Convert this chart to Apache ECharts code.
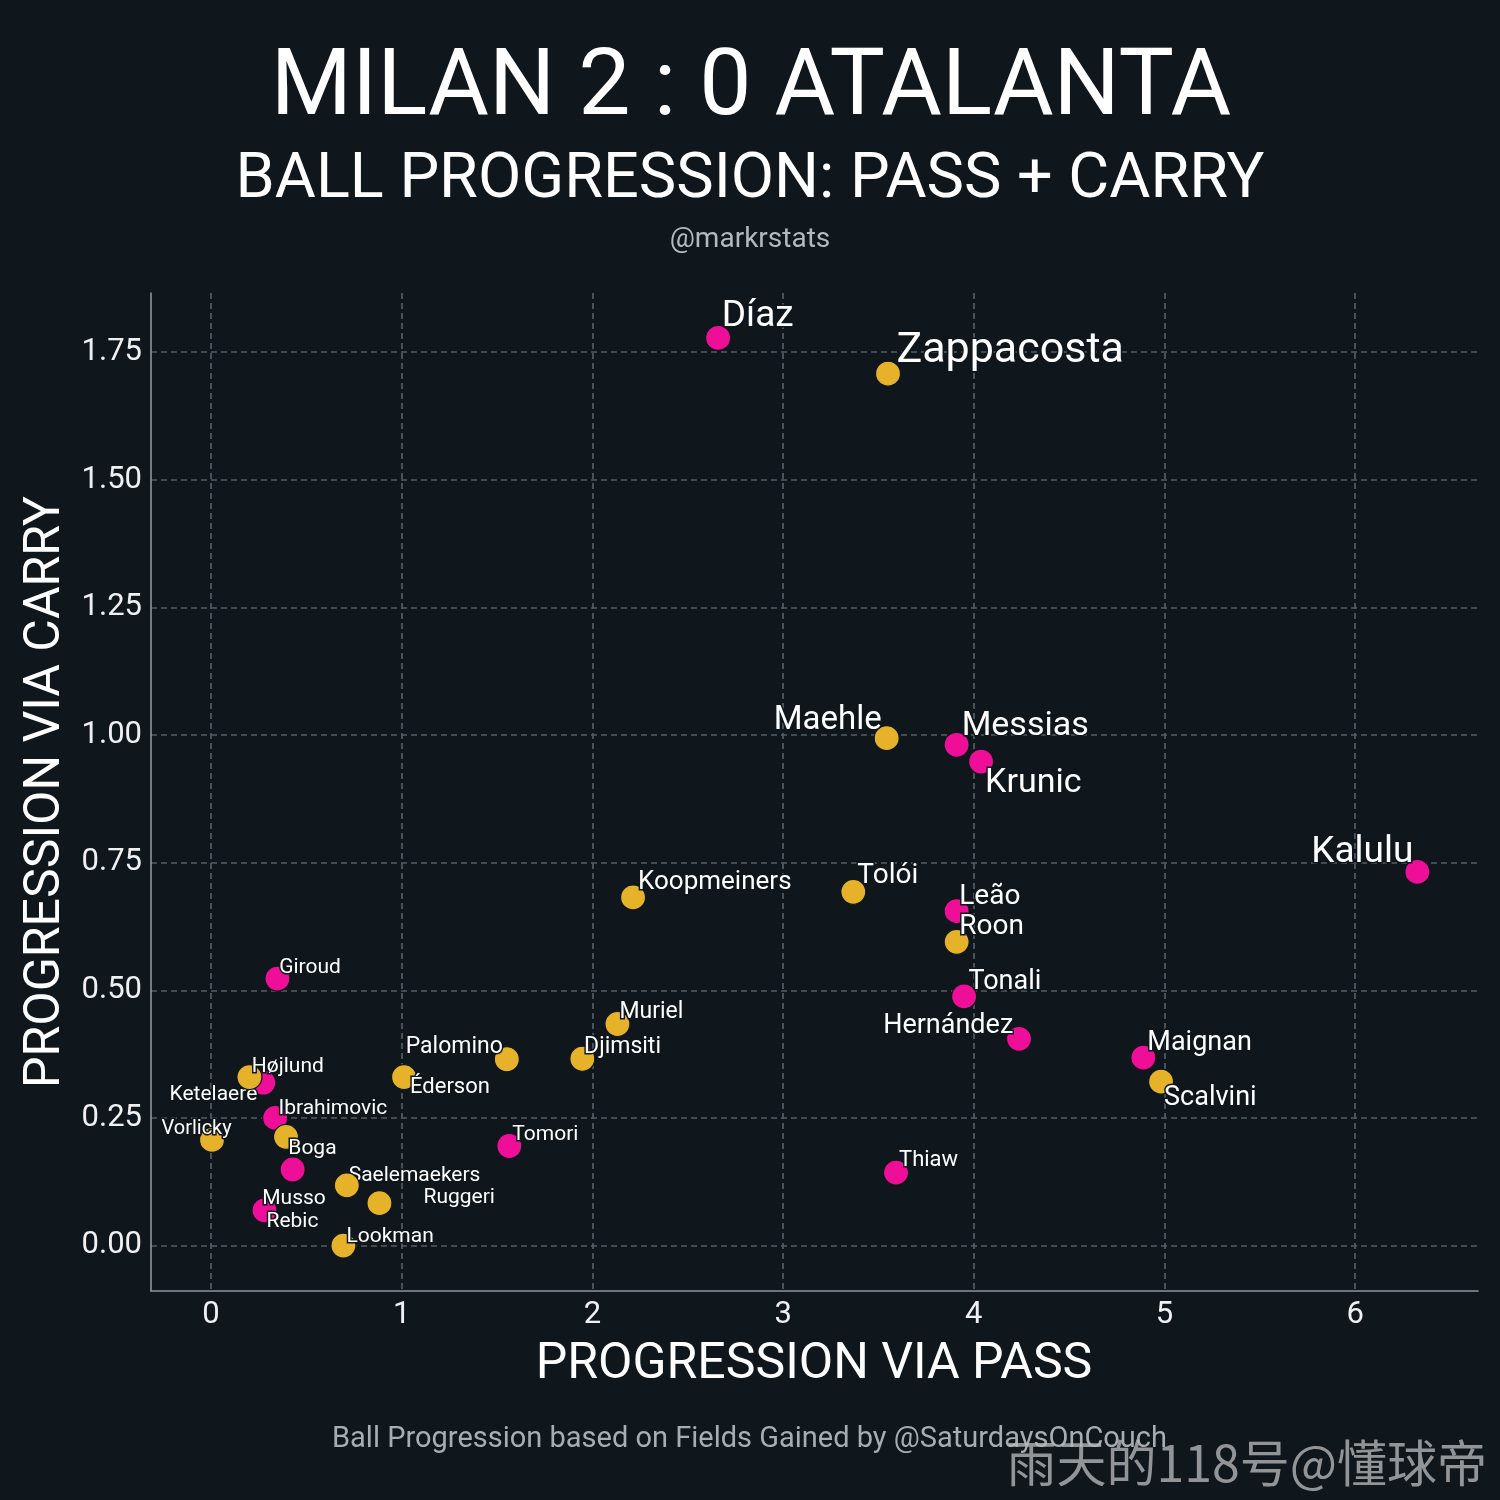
<!DOCTYPE html>
<html>
<head>
<meta charset="utf-8">
<script src="https://cdn.jsdelivr.net/npm/echarts@6/dist/echarts.min.js"></script>
<style>
html,body{margin:0;padding:0;background:#0f161c;}
#c{width:1500px;height:1500px;}
</style>
</head>
<body>
<div id="c"></div>
<script>
// ---- data ----
const milanNames = ['Díaz','Messias','Krunic','Kalulu','Leão','Tonali','Hernández','Maignan','Thiaw','Giroud','Tomori','Ketelaere','Ibrahimovic','Saelemaekers','Rebic'];
const milanPass  = [2.659, 3.910, 4.038, 6.326, 3.910, 3.949, 4.237, 4.889, 3.592, 0.348, 1.564, 0.274, 0.336, 0.428, 0.280];
const milanCarry = [1.778, 0.981, 0.948, 0.732, 0.655, 0.488, 0.405, 0.368, 0.143, 0.523, 0.195, 0.319, 0.250, 0.149, 0.069];

const atalantaNames = ['Zappacosta','Maehle','Koopmeiners','Tolói','Roon','Scalvini','Muriel','Djimsiti','Palomino','Éderson','Højlund','Boga','Vorlicky','Musso','Ruggeri','Lookman'];
const atalantaPass  = [3.550, 3.543, 2.213, 3.368, 3.910, 4.982, 2.131, 1.947, 1.551, 1.012, 0.201, 0.393, 0.005, 0.712, 0.883, 0.694];
const atalantaCarry = [1.708, 0.994, 0.682, 0.693, 0.595, 0.321, 0.434, 0.366, 0.365, 0.330, 0.330, 0.213, 0.207, 0.118, 0.083, 0.000];

const xTicks = [0, 1, 2, 3, 4, 5, 6];
const yTicks = [0, 0.25, 0.5, 0.75, 1.0, 1.25, 1.5, 1.75];

// ---- label styling (align, dx, dy, fontSize) ----
const labelLayout = {
  'Díaz':['left',3.7,-25.8,37], 'Zappacosta':['left',8.4,-27.5,43],
  'Maehle':['right',-5,-21,33], 'Messias':['left',5,-22,34], 'Krunic':['left',4,17.5,34],
  'Kalulu':['right',-4,-24,37], 'Koopmeiners':['left',5,-18,26], 'Tolói':['left',4,-19,28],
  'Leão':['left',2.6,-17.5,28], 'Roon':['left',2.6,-17.8,28], 'Tonali':['left',4.3,-17.5,27],
  'Hernández':['right',-5.7,-16,27], 'Maignan':['left',4,-17.5,27], 'Scalvini':['left',3,13.5,27],
  'Thiaw':['left',3,-15,22], 'Giroud':['left',1.7,-13,21], 'Muriel':['left',2,-15,23],
  'Djimsiti':['left',1.7,-14.6,23], 'Palomino':['right',-4,-14.7,23], 'Éderson':['left',6,8,22],
  'Tomori':['left',3,-14,21], 'Højlund':['left',2.4,-12.7,21], 'Ketelaere':['right',-6,9.7,21],
  'Ibrahimovic':['left',3.3,-12,21], 'Vorlicky':['right',19.7,-13.7,20], 'Boga':['left',2.3,9.8,21],
  'Saelemaekers':['left',56,3.7,21], 'Musso':['right',-21,11,21], 'Ruggeri':['left',44,-8.2,21],
  'Rebic':['left',2,9,21], 'Lookman':['left',3,-11.7,21]
};

const BG = '#0f161c';
const MAGENTA = '#ee0e98';
const GOLD = '#e6b22a';

function buildData(names, xs, ys) {
  return names.map((n, i) => {
    const l = labelLayout[n] || ['left', 4, -14, 21];
    return {
      name: n,
      value: [xs[i], ys[i]],
      label: {
        show: true,
        formatter: n,
        position: 'inside',
        align: l[0],
        verticalAlign: 'middle',
        offset: [l[1], l[2] + 0.12 * l[3]],
        fontSize: l[3],
        fontFamily: 'Roboto',
        color: '#ffffff',
        textBorderColor: BG,
        textBorderWidth: 3
      }
    };
  });
}

const chart = echarts.init(document.getElementById('c'), null, {renderer: 'canvas'});
const txt = (text, x, y, fs, color, extra) => Object.assign({
  type: 'text', x: x, y: y, z: 100,
  style: Object.assign({
    text: text, fill: color, fontSize: fs, fontFamily: 'Roboto',
    align: 'center', verticalAlign: 'middle',
    textAlign: 'center', textVerticalAlign: 'middle'
  }, extra && extra.style || {})
}, extra && extra.el || {});

chart.setOption({
  backgroundColor: BG,
  animation: false,
  grid: {left: 151, right: 22, top: 293, bottom: 209, containLabel: false},
  xAxis: {
    type: 'value', min: -0.315, max: 6.644,
    axisLine: {show: true, onZero: false, lineStyle: {color: '#8c989d', width: 1.6}},
    axisTick: {show: false, customValues: xTicks},
    axisLabel: {customValues: xTicks, color: '#f0f0f0', fontSize: 31, fontFamily: 'Roboto', margin: 9,
      formatter: v => String(Math.round(v))},
    splitLine: {show: true, lineStyle: {type: [6, 4], color: '#515e64', width: 1.7}}
  },
  yAxis: {
    type: 'value', min: -0.089, max: 1.866,
    axisLine: {show: true, onZero: false, lineStyle: {color: '#8c989d', width: 1.6}},
    axisTick: {show: false, customValues: yTicks},
    axisLabel: {customValues: yTicks, color: '#f0f0f0', fontSize: 31, fontFamily: 'Roboto', margin: 9,
      padding: [5, 0, 0, 0], formatter: v => v.toFixed(2)},
    splitLine: {show: true, lineStyle: {type: [6, 4], color: '#515e64', width: 1.7}}
  },
  series: [
    {
      name: 'Milan', type: 'scatter', symbolSize: 25, z: 2,
      itemStyle: {color: MAGENTA, borderColor: BG, borderWidth: 1.2, opacity: 1},
      data: buildData(milanNames, milanPass, milanCarry)
    },
    {
      name: 'Atalanta', type: 'scatter', symbolSize: 25, z: 3,
      itemStyle: {color: GOLD, borderColor: BG, borderWidth: 1.2, opacity: 1},
      data: buildData(atalantaNames, atalantaPass, atalantaCarry)
    }
  ],
  graphic: [
    txt('MILAN 2 : 0 ATALANTA', 751, 90.5, 93, '#ffffff'),
    txt('BALL PROGRESSION: PASS + CARRY', 750, 181, 63, '#ffffff'),
    txt('@markrstats', 750, 240, 28, '#b4b9bd'),
    txt('PROGRESSION VIA PASS', 814, 1365, 50, '#ffffff'),
    txt('PROGRESSION VIA CARRY', 46, 792, 50, '#ffffff', {el: {rotation: Math.PI / 2}}),
    txt('Ball Progression based on Fields Gained by @SaturdaysOnCouch', 749.5, 1440, 29, '#a7adb1'),
    txt('雨天的118号@懂球帝', 1487, 1463, 50, 'rgba(185,185,185,0.78)',
      {style: {align: 'right', textAlign: 'right', fontFamily: 'Noto Sans CJK SC'}})
  ]
});
</script>
</body>
</html>
